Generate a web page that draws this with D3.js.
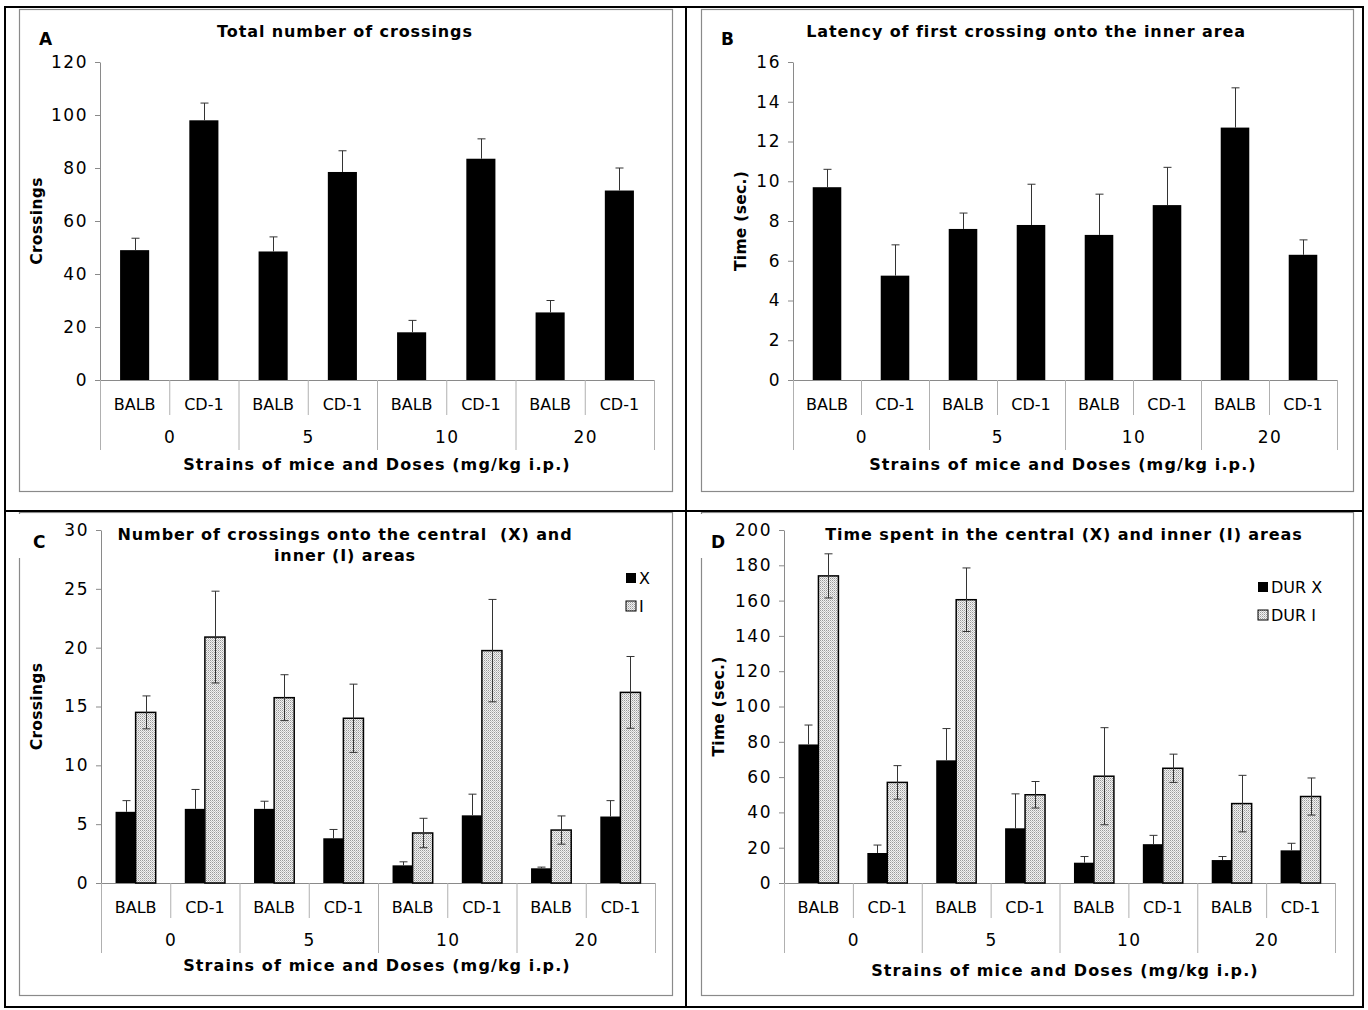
<!DOCTYPE html>
<html>
<head>
<meta charset="utf-8">
<script src="https://cdn.jsdelivr.net/npm/d3@7/dist/d3.min.js"></script>
<style>
  html, body { margin: 0; padding: 0; background: #fff; }
  svg { display: block; }
  text { font-family: "DejaVu Sans", Verdana, sans-serif; fill: #000; white-space: pre; }
</style>
</head>
<body>
<script>
// ---------------- DATA ----------------
const strains = ["BALB", "CD-1", "BALB", "CD-1", "BALB", "CD-1", "BALB", "CD-1"];
const doses = ["0", "5", "10", "20"];

// Panel A: total number of crossings
const crossingsMean = [49, 98, 48.5, 78.5, 18, 83.5, 25.5, 71.5];
const crossingsErr  = [4.5, 6.5, 5.5, 8, 4.5, 7.5, 4.5, 8.5];
const ticksA = [0, 20, 40, 60, 80, 100, 120];

// Panel B: latency of first crossing onto the inner area
const latencyMean = [9.7, 5.25, 7.6, 7.8, 7.3, 8.8, 12.7, 6.3];
const latencyErr  = [0.9, 1.55, 0.8, 2.05, 2.05, 1.9, 2.0, 0.75];
const ticksB = [0, 2, 4, 6, 8, 10, 12, 14, 16];

// Panel C: crossings onto central (X) and inner (I) areas
const crossXMean = [6.05, 6.3, 6.3, 3.8, 1.5, 5.75, 1.25, 5.65];
const crossXErr  = [0.95, 1.65, 0.65, 0.75, 0.3, 1.8, 0.1, 1.35];
const crossIMean = [14.5, 20.9, 15.75, 14.0, 4.25, 19.75, 4.5, 16.2];
const crossIErr  = [1.4, 3.9, 1.95, 2.9, 1.25, 4.35, 1.2, 3.05];
const ticksC = [0, 5, 10, 15, 20, 25, 30];
const legendC = ["X", "I"];

// Panel D: time spent in central (X) and inner (I) areas
const durXMean = [78.5, 17, 69.5, 31, 11.5, 22, 13, 18.5];
const durXErr  = [11, 4.5, 18, 19.5, 3.5, 5, 2, 4];
const durIMean = [174, 57, 160.5, 50, 60.5, 65, 45, 49];
const durIErr  = [12.5, 9.5, 18, 7.5, 27.5, 8, 16, 10.5];
const ticksD = [0, 20, 40, 60, 80, 100, 120, 140, 160, 180, 200];
const legendD = ["DUR X", "DUR I"];

const xTitle = "Strains of mice and Doses (mg/kg i.p.)";

// ---------------- DRAW ----------------
const W = 1368, H = 1010;
const svg = d3.select("body").append("svg").attr("width", W).attr("height", H);
svg.append("rect").attr("width", W).attr("height", H).attr("fill", "#fff");

const defs = svg.append("defs");
const pat = defs.append("pattern").attr("id", "dots")
  .attr("width", 2).attr("height", 2).attr("patternUnits", "userSpaceOnUse");
pat.append("rect").attr("width", 2).attr("height", 2).attr("fill", "#f2f2f2");
pat.append("rect").attr("x", 0).attr("y", 0).attr("width", 1).attr("height", 1).attr("fill", "#9a9a9a");
pat.append("rect").attr("x", 1).attr("y", 1).attr("width", 1).attr("height", 1).attr("fill", "#c4c4c4");

const GRAY = "#8a8a8a";

// inner chart frames
const frames = [[19, 9, 672, 491], [701, 9, 1353, 491], [19, 512, 672, 995], [701, 512, 1353, 995]];
frames.forEach(f => {
  svg.append("rect").attr("x", f[0] + 0.5).attr("y", f[1] + 0.5)
    .attr("width", f[2] - f[0]).attr("height", f[3] - f[1])
    .attr("fill", "none").attr("stroke", GRAY).attr("stroke-width", 1.2);
});

// outer table lines
svg.append("rect").attr("x", 5).attr("y", 7).attr("width", 1358).attr("height", 1000)
  .attr("fill", "none").attr("stroke", "#000").attr("stroke-width", 2);
svg.append("line").attr("x1", 686).attr("x2", 686).attr("y1", 7).attr("y2", 1007)
  .attr("stroke", "#000").attr("stroke-width", 2);
svg.append("line").attr("x1", 5).attr("x2", 1363).attr("y1", 511).attr("y2", 511)
  .attr("stroke", "#000").attr("stroke-width", 2);

function drawPanel(p) {
  const g = svg.append("g");
  const x = d3.scaleBand().domain(d3.range(strains.length)).range([p.x0, p.x1]);
  const y = d3.scaleLinear().domain([0, p.ticks[p.ticks.length - 1]]).range([p.yBottom, p.yTop]);
  const bw = x.bandwidth();

  // y axis
  const ya = g.append("g").attr("transform", `translate(${p.x0},0)`)
    .call(d3.axisLeft(y).tickValues(p.ticks).tickSize(5).tickSizeOuter(0).tickPadding(7).tickFormat(d3.format("d")));
  ya.select(".domain").attr("stroke", GRAY);
  ya.selectAll(".tick line").attr("stroke", GRAY);
  ya.selectAll(".tick text").attr("font-size", 17).attr("letter-spacing", 1.5)
    .attr("font-family", "DejaVu Sans").attr("fill", "#000");

  // x axis line and separators
  g.append("line").attr("x1", p.x0).attr("x2", p.x1).attr("y1", p.yBottom + 0.5).attr("y2", p.yBottom + 0.5)
    .attr("stroke", GRAY);
  for (let i = 0; i <= strains.length; i++) {
    const xx = i < strains.length ? x(i) : p.x1;
    g.append("line").attr("x1", xx + 0.5).attr("x2", xx + 0.5)
      .attr("y1", p.yBottom).attr("y2", p.yBottom + (i % 2 === 0 ? 70 : 35))
      .attr("stroke", "#b0b0b0");
  }
  g.selectAll(".strain").data(strains).join("text")
    .attr("x", (d, i) => x(i) + bw / 2).attr("y", p.yBottom + 30)
    .attr("text-anchor", "middle").attr("font-size", 16).text(d => d);
  g.selectAll(".dose").data(doses).join("text")
    .attr("x", (d, i) => x(i * 2) + bw + 1).attr("y", p.yBottom + 63)
    .attr("text-anchor", "middle").attr("font-size", 17).attr("letter-spacing", 1.5).text(d => d);
  g.append("text").attr("x", p.xTitleX).attr("y", p.yBottom + p.xTitleDy)
    .attr("text-anchor", "middle").attr("font-size", 16).attr("letter-spacing", 1.1)
    .attr("font-weight", "bold").text(xTitle);

  // y title
  g.append("text").attr("transform", `translate(${p.yTitleX},${(p.yTop + p.yBottom) / 2}) rotate(-90)`)
    .attr("text-anchor", "middle").attr("font-size", 15.5).attr("letter-spacing", 0.3)
    .attr("font-weight", "bold").text(p.yTitle);

  // chart title
  p.title.forEach((t, k) => {
    g.append("text").attr("x", p.titleX).attr("y", p.titleY + k * 21)
      .attr("text-anchor", "middle").attr("font-size", 16).attr("letter-spacing", 0.9)
      .attr("font-weight", "bold").text(t);
  });

  // panel letter
  if (p.hideFrame) {
    g.append("rect").attr("x", p.frameX - 2).attr("y", p.yFrameTop + 2).attr("width", 5).attr("height", 44).attr("fill", "#fff");
  }
  g.append("text").attr("x", p.letterX).attr("y", p.letterY).attr("font-size", 17)
    .attr("font-weight", "bold").text(p.letter);

  // bars
  const n = p.series.length;
  const groupW = n === 1 ? bw * 0.42 : bw * 0.58;
  const inner = d3.scaleBand().domain(d3.range(n)).range([-groupW / 2, groupW / 2]);
  p.series.forEach((s, si) => {
    const sg = g.append("g");
    const solid = s.fill === "#000";
    sg.selectAll("rect").data(s.mean).join("rect")
      .attr("x", (d, i) => x(i) + bw / 2 + inner(si))
      .attr("y", d => y(d))
      .attr("width", inner.bandwidth())
      .attr("height", d => y(0) - y(d))
      .attr("fill", s.fill)
      .attr("stroke", "#000").attr("stroke-width", solid ? 0 : 1.5);
    // error bars (lower whisker hidden behind solid black bars)
    s.mean.forEach((m, i) => {
      const cx = Math.round(x(i) + bw / 2 + inner(si) + inner.bandwidth() / 2) + 0.5;
      const lo = solid ? y(m) : y(m - s.err[i]);
      const hi = y(m + s.err[i]);
      const col = "#333";
      sg.append("line").attr("x1", cx).attr("x2", cx).attr("y1", lo).attr("y2", hi).attr("stroke", col);
      sg.append("line").attr("x1", cx - 4).attr("x2", cx + 4).attr("y1", hi).attr("y2", hi).attr("stroke", col);
      if (!solid) {
        sg.append("line").attr("x1", cx - 4).attr("x2", cx + 4).attr("y1", lo).attr("y2", lo).attr("stroke", col);
      }
    });
  });

  // legend
  if (p.legend) {
    p.legend.forEach((name, k) => {
      const ly = p.legendY + k * 28;
      g.append("rect").attr("x", p.legendX).attr("y", ly - 5).attr("width", 10).attr("height", 10)
        .attr("fill", p.series[k].fill).attr("stroke", "#000").attr("stroke-width", k === 0 ? 0 : 1);
      g.append("text").attr("x", p.legendX + 13).attr("y", ly + 6).attr("font-size", 16).text(name);
    });
  }
}

drawPanel({
  x0: 100, x1: 654, yTop: 62, yBottom: 380, ticks: ticksA,
  series: [{ mean: crossingsMean, err: crossingsErr, fill: "#000" }],
  title: ["Total number of crossings"], titleX: 345, titleY: 37,
  yTitle: "Crossings", yTitleX: 42, xTitleX: 377, xTitleDy: 90,
  letter: "A", letterX: 39, letterY: 45
});
drawPanel({
  x0: 793, x1: 1337, yTop: 62, yBottom: 380, ticks: ticksB,
  series: [{ mean: latencyMean, err: latencyErr, fill: "#000" }],
  title: ["Latency of first crossing onto the inner area"], titleX: 1026, titleY: 37,
  yTitle: "Time (sec.)", yTitleX: 746, xTitleX: 1063, xTitleDy: 90,
  letter: "B", letterX: 721, letterY: 45
});
drawPanel({
  x0: 101, x1: 655, yTop: 530, yBottom: 883, ticks: ticksC,
  series: [{ mean: crossXMean, err: crossXErr, fill: "#000" }, { mean: crossIMean, err: crossIErr, fill: "url(#dots)" }],
  title: ["Number of crossings onto the central  (X) and", "inner (I) areas"], titleX: 345, titleY: 540,
  yTitle: "Crossings", yTitleX: 42, xTitleX: 377, xTitleDy: 88,
  letter: "C", letterX: 33, letterY: 548, hideFrame: true, frameX: 19, yFrameTop: 512,
  legend: legendC, legendX: 626, legendY: 578
});
drawPanel({
  x0: 784, x1: 1335, yTop: 530, yBottom: 883, ticks: ticksD,
  series: [{ mean: durXMean, err: durXErr, fill: "#000" }, { mean: durIMean, err: durIErr, fill: "url(#dots)" }],
  title: ["Time spent in the central (X) and inner (I) areas"], titleX: 1064, titleY: 540,
  yTitle: "Time (sec.)", yTitleX: 724, xTitleX: 1065, xTitleDy: 93,
  letter: "D", letterX: 711, letterY: 548, hideFrame: true, frameX: 701, yFrameTop: 512,
  legend: legendD, legendX: 1258, legendY: 587
});
</script>
</body>
</html>
